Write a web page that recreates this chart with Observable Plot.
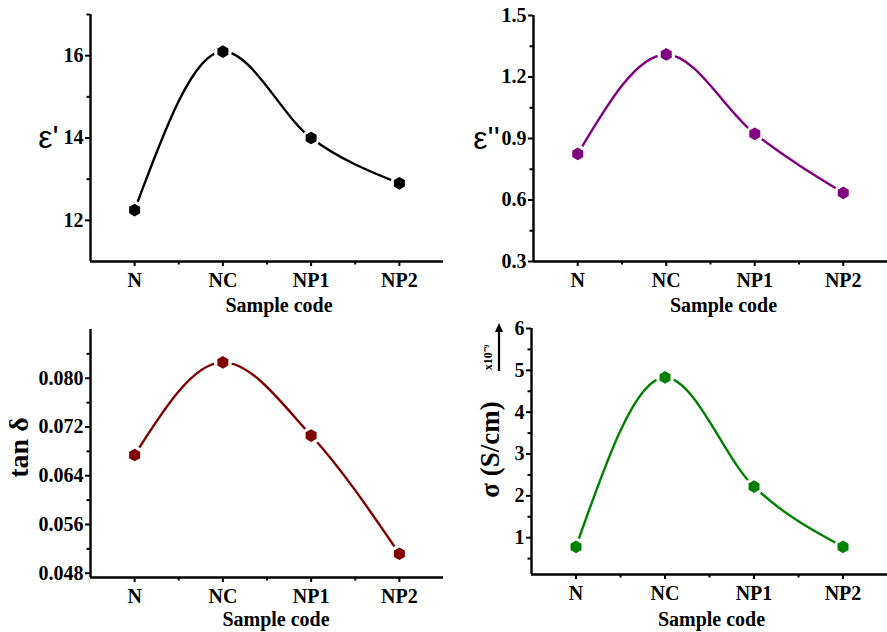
<!DOCTYPE html>
<html>
<head>
<meta charset="utf-8">
<script src="https://cdn.jsdelivr.net/npm/d3@7"></script>
<script src="https://cdn.jsdelivr.net/npm/@observablehq/plot@0.6"></script>
<style>
  html, body { margin: 0; padding: 0; background: #fff; }
  #wrap { position: relative; width: 887px; height: 632px; overflow: hidden; }
  #wrap > svg, #wrap > figure { position: absolute; margin: 0; }
</style>
</head>
<body>
<div id="wrap"></div>
<script>
// ---- data ----
const samples = ["N", "NC", "NP1", "NP2"];
const epsReal = [12.25, 16.1, 14.0, 12.9];
const epsImag = [0.825, 1.31, 0.923, 0.635];
const tanDelta = [0.0674, 0.0826, 0.0706, 0.0512];
const sigma = [0.78, 4.83, 2.22, 0.78];

const epsRealTicks = [12, 14, 16];
const epsRealMinor = [13, 15, 17];
const epsImagTicks = [0.3, 0.6, 0.9, 1.2, 1.5];
const epsImagMinor = [0.45, 0.75, 1.05, 1.35];
const tanTicks = [0.048, 0.056, 0.064, 0.072, 0.080];
const tanMinor = [0.052, 0.060, 0.068, 0.076, 0.084];
const sigmaTicks = [1, 2, 3, 4, 5, 6];
const sigmaMinor = [0.5, 1.5, 2.5, 3.5, 4.5, 5.5];

const xMajor = [1, 2, 3, 4];
const xMinor = [1.5, 2.5, 3.5];

const serif = "'Liberation Serif', 'Times New Roman', serif";

function panel(cfg) {
  const data = samples.map((s, i) => ({ s, x: i + 1, y: cfg.values[i] }));
  const ymin = cfg.domain[0];
  const marks = [
    Plot.line(data, { x: "x", y: "y", curve: "monotone-x", stroke: cfg.color, strokeWidth: 2.4 }),
    Plot.dot(data, { x: "x", y: "y", r: 9, fill: "white", stroke: "none" }),
    Plot.dot(data, { x: "x", y: "y", r: 5.5, symbol: "hexagon", fill: cfg.color, stroke: "none" }),
    Plot.ruleX([0.5], { strokeWidth: 2.4 }),
    Plot.ruleY([ymin], { strokeWidth: 2.4 }),
    Plot.axisY({ ticks: cfg.ticks, tickSize: 5, tickPadding: 2, strokeWidth: 2, tickFormat: cfg.fmt, label: null,
                 fontSize: 20, fontWeight: "bold", fontFamily: serif }),
    Plot.axisY({ ticks: cfg.minor, tickSize: 3.5, strokeWidth: 2, tickFormat: () => "", label: null }),
    Plot.axisX({ ticks: xMajor, tickSize: 5, tickPadding: 6, strokeWidth: 2, tickFormat: d => samples[d - 1], label: null,
                 fontSize: 20, fontWeight: "bold", fontFamily: serif }),
    Plot.axisX({ ticks: xMinor, tickSize: 3.5, strokeWidth: 2, tickFormat: () => "", label: null }),
    Plot.text(["Sample code"], { frameAnchor: "bottom", dx: cfg.sdx, dy: cfg.sdy, fontSize: 20, fontWeight: "bold",
                 fontFamily: serif, fill: "black", textAnchor: "middle", lineAnchor: "middle" }),
    Plot.text([cfg.ylabel], { frameAnchor: "left", dx: cfg.ldx, dy: cfg.ldy, rotate: cfg.rotate || 0,
                 textAnchor: "middle", lineAnchor: "middle",
                 fontSize: cfg.lsize, fontWeight: cfg.lweight || "normal", fontFamily: cfg.lfont || serif, fill: "black" }),
    ...(cfg.extra || [])
  ];
  const svg = Plot.plot({
    width: cfg.width,
    height: 316,
    marginLeft: cfg.ml,
    marginRight: 0,
    marginTop: cfg.mt,
    marginBottom: cfg.mb,
    x: { domain: [0.5, 4.5] },
    y: { domain: cfg.domain },
    style: { fontFamily: serif, background: "transparent", overflow: "visible" },
    marks
  });
  svg.style.left = cfg.left + "px";
  svg.style.top = cfg.top + "px";
  document.getElementById("wrap").appendChild(svg);
  return svg;
}

panel({ left: 0, top: 0, width: 443, ml: 90, mt: 14, mb: 55, values: epsReal, domain: [11, 17],
        ticks: epsRealTicks, minor: epsRealMinor, fmt: d3.format("d"), color: "#000000",
        ylabel: "ε'", ldx: -42, ldy: 0, lsize: 32, lfont: "'Liberation Sans', Arial, sans-serif", sdx: 12, sdy: 44 });

panel({ left: 443, top: 0, width: 444, ml: 90, mt: 15, mb: 55, values: epsImag, domain: [0.3, 1.5],
        ticks: epsImagTicks, minor: epsImagMinor, fmt: d3.format(".1f"), color: "#800080",
        ylabel: "ε''", ldx: -47, ldy: 0, lsize: 32, lfont: "'Liberation Sans', Arial, sans-serif", sdx: 13, sdy: 44 });

panel({ left: 0, top: 316, width: 443, ml: 90, mt: 13, mb: 55, values: tanDelta, domain: [0.0473, 0.088],
        ticks: tanTicks, minor: tanMinor, fmt: d3.format(".3f"), color: "#800000",
        ylabel: "tan δ", ldx: -71, ldy: -6, rotate: -90, lsize: 28, lweight: "bold", sdx: 9, sdy: 42 });

const s4 = panel({ left: 443, top: 316, width: 444, ml: 88, mt: 12, mb: 58, values: sigma, domain: [0.12, 6],
        ticks: sigmaTicks, minor: sigmaMinor, fmt: d3.format("d"), color: "#008000",
        ylabel: "σ (S/cm)", ldx: -41, ldy: -2, rotate: -90, lsize: 27, lweight: "bold", sdx: 2, sdy: 45,
        extra: [
          Plot.text(["x10⁻⁹"], { frameAnchor: "top-left", dx: -43, dy: 29, rotate: -90, fontSize: 12,
                                 textAnchor: "middle", lineAnchor: "middle",
                                 fontWeight: "bold", fontFamily: serif, fill: "black" })
        ] });

// small arrow beside the multiplier annotation
const g = d3.select(s4).append("g");
g.append("line").attr("x1", 56).attr("x2", 56).attr("y1", 55).attr("y2", 14)
  .attr("stroke", "black").attr("stroke-width", 2.2);
g.append("path").attr("d", "M56,7 L52,16 L60,16 Z").attr("fill", "black");
</script>
</body>
</html>
